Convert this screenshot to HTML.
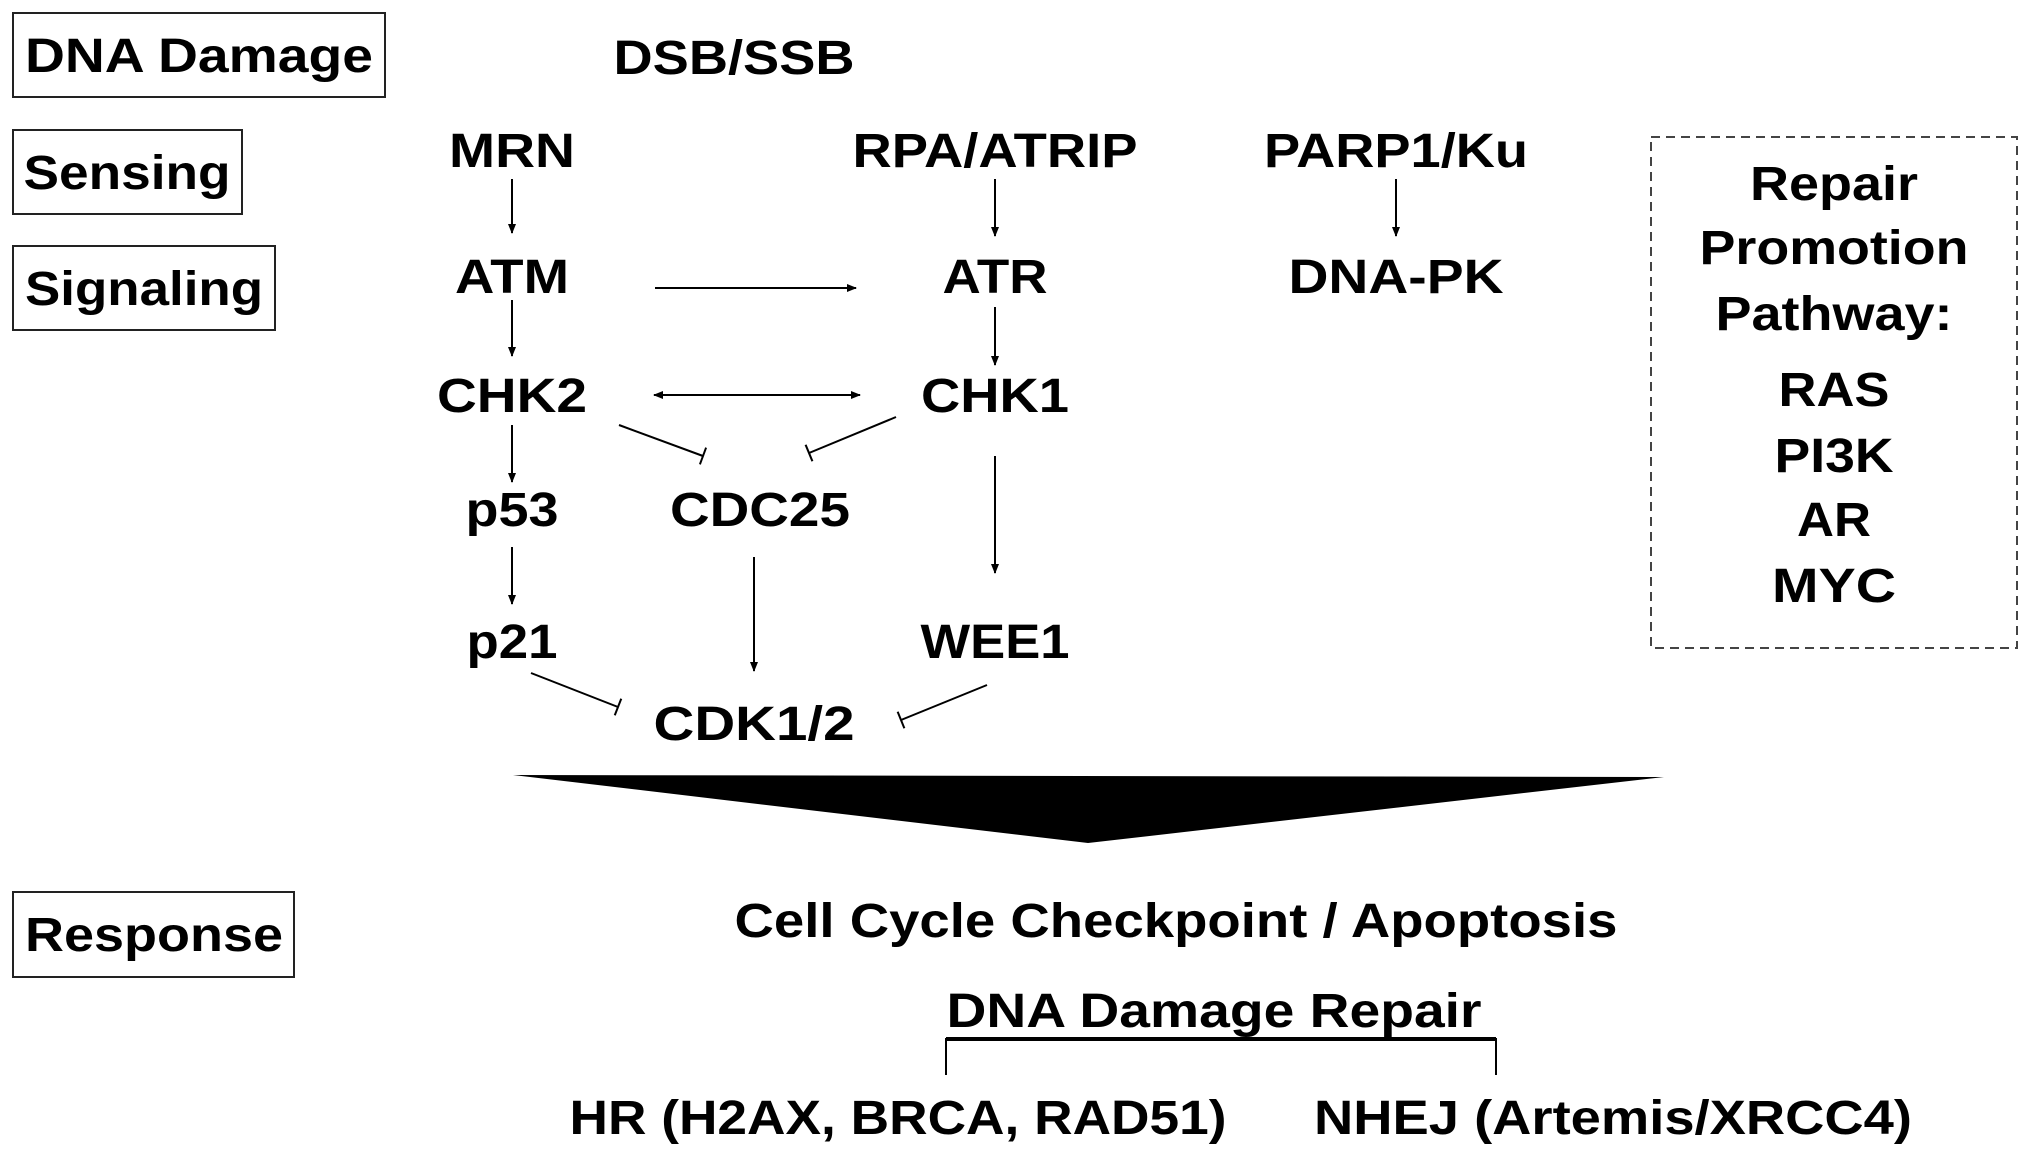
<!DOCTYPE html>
<html><head><meta charset="utf-8"><style>
html,body{margin:0;padding:0;background:#fff;}
svg{display:block;}
text{font-family:"Liberation Sans",Arial,sans-serif;font-weight:bold;fill:#000;}
</style></head><body>
<svg width="2031" height="1161" viewBox="0 0 2031 1161" xmlns="http://www.w3.org/2000/svg">
<defs>
<marker id="a" markerWidth="10" markerHeight="10" refX="9" refY="5" orient="auto" markerUnits="userSpaceOnUse"><path d="M0,1 L10,5 L0,9 z" fill="#000"/></marker>
<marker id="as" markerWidth="10" markerHeight="10" refX="1" refY="5" orient="auto" markerUnits="userSpaceOnUse"><path d="M10,1 L0,5 L10,9 z" fill="#000"/></marker>
<marker id="t" markerWidth="4" markerHeight="18" refX="2" refY="9" orient="auto" markerUnits="userSpaceOnUse"><path d="M2,0 L2,18" stroke="#000" stroke-width="2"/></marker>
</defs>
<g fill="none" stroke="#222" stroke-width="2">
<rect x="13" y="13" width="372" height="84"/>
<rect x="13" y="130" width="229" height="84"/>
<rect x="13" y="246" width="262" height="84"/>
<rect x="13" y="892" width="281" height="85"/>
<rect x="1651" y="137" width="366" height="511" stroke-dasharray="9,6" stroke="#444"/>
</g>
<g font-size="48" text-anchor="middle">
<text x="199" y="72" textLength="348" lengthAdjust="spacingAndGlyphs">DNA Damage</text>
<text x="127" y="189" textLength="207" lengthAdjust="spacingAndGlyphs">Sensing</text>
<text x="144" y="305" textLength="238" lengthAdjust="spacingAndGlyphs">Signaling</text>
<text x="154" y="951" textLength="258" lengthAdjust="spacingAndGlyphs">Response</text>
<text x="734" y="74" textLength="241" lengthAdjust="spacingAndGlyphs">DSB/SSB</text>
<text x="512" y="167" textLength="126" lengthAdjust="spacingAndGlyphs">MRN</text>
<text x="995" y="167" textLength="285" lengthAdjust="spacingAndGlyphs">RPA/ATRIP</text>
<text x="1396" y="167" textLength="264" lengthAdjust="spacingAndGlyphs">PARP1/Ku</text>
<text x="512" y="293" textLength="114" lengthAdjust="spacingAndGlyphs">ATM</text>
<text x="995" y="293" textLength="105" lengthAdjust="spacingAndGlyphs">ATR</text>
<text x="1396" y="293" textLength="215" lengthAdjust="spacingAndGlyphs">DNA-PK</text>
<text x="512" y="412" textLength="150" lengthAdjust="spacingAndGlyphs">CHK2</text>
<text x="995" y="412" textLength="148" lengthAdjust="spacingAndGlyphs">CHK1</text>
<text x="512" y="526" textLength="93" lengthAdjust="spacingAndGlyphs">p53</text>
<text x="760" y="526" textLength="180" lengthAdjust="spacingAndGlyphs">CDC25</text>
<text x="512" y="658" textLength="91" lengthAdjust="spacingAndGlyphs">p21</text>
<text x="995" y="658" textLength="149" lengthAdjust="spacingAndGlyphs">WEE1</text>
<text x="754" y="740" textLength="201" lengthAdjust="spacingAndGlyphs">CDK1/2</text>
<text x="1834" y="200" textLength="168" lengthAdjust="spacingAndGlyphs">Repair</text>
<text x="1834" y="264" textLength="269" lengthAdjust="spacingAndGlyphs">Promotion</text>
<text x="1834" y="330" textLength="237" lengthAdjust="spacingAndGlyphs">Pathway:</text>
<text x="1834" y="406" textLength="111" lengthAdjust="spacingAndGlyphs">RAS</text>
<text x="1834" y="472" textLength="119" lengthAdjust="spacingAndGlyphs">PI3K</text>
<text x="1834" y="536" textLength="74" lengthAdjust="spacingAndGlyphs">AR</text>
<text x="1834" y="602" textLength="124" lengthAdjust="spacingAndGlyphs">MYC</text>
<text x="1176" y="937" textLength="883" lengthAdjust="spacingAndGlyphs">Cell Cycle Checkpoint / Apoptosis</text>
<text x="1214" y="1027" textLength="535" lengthAdjust="spacingAndGlyphs">DNA Damage Repair</text>
<text x="898" y="1134" textLength="657" lengthAdjust="spacingAndGlyphs">HR (H2AX, BRCA, RAD51)</text>
<text x="1613" y="1134" textLength="598" lengthAdjust="spacingAndGlyphs">NHEJ (Artemis/XRCC4)</text>
</g>
<g stroke="#000" stroke-width="2" fill="none">
<line x1="512" y1="179" x2="512" y2="233" marker-end="url(#a)"/>
<line x1="995" y1="179" x2="995" y2="236" marker-end="url(#a)"/>
<line x1="1396" y1="179" x2="1396" y2="236" marker-end="url(#a)"/>
<line x1="655" y1="288" x2="856" y2="288" marker-end="url(#a)"/>
<line x1="512" y1="300" x2="512" y2="356" marker-end="url(#a)"/>
<line x1="995" y1="307" x2="995" y2="365" marker-end="url(#a)"/>
<line x1="654" y1="395" x2="860" y2="395" marker-end="url(#a)" marker-start="url(#as)"/>
<line x1="619" y1="425" x2="703" y2="456" marker-end="url(#t)"/>
<line x1="896" y1="417" x2="809" y2="453" marker-end="url(#t)"/>
<line x1="512" y1="425" x2="512" y2="482" marker-end="url(#a)"/>
<line x1="995" y1="456" x2="995" y2="573" marker-end="url(#a)"/>
<line x1="512" y1="547" x2="512" y2="604" marker-end="url(#a)"/>
<line x1="754" y1="557" x2="754" y2="671" marker-end="url(#a)"/>
<line x1="531" y1="673" x2="618" y2="707" marker-end="url(#t)"/>
<line x1="987" y1="685" x2="901" y2="720" marker-end="url(#t)"/>
<polyline points="946,1075 946,1039 1496,1039 1496,1075"/>
</g>
<line x1="946" y1="1039" x2="1496" y2="1039" stroke="#000" stroke-width="4"/>
<polygon points="513,775 1664,777 1088,843" fill="#000"/>
</svg>
</body></html>
